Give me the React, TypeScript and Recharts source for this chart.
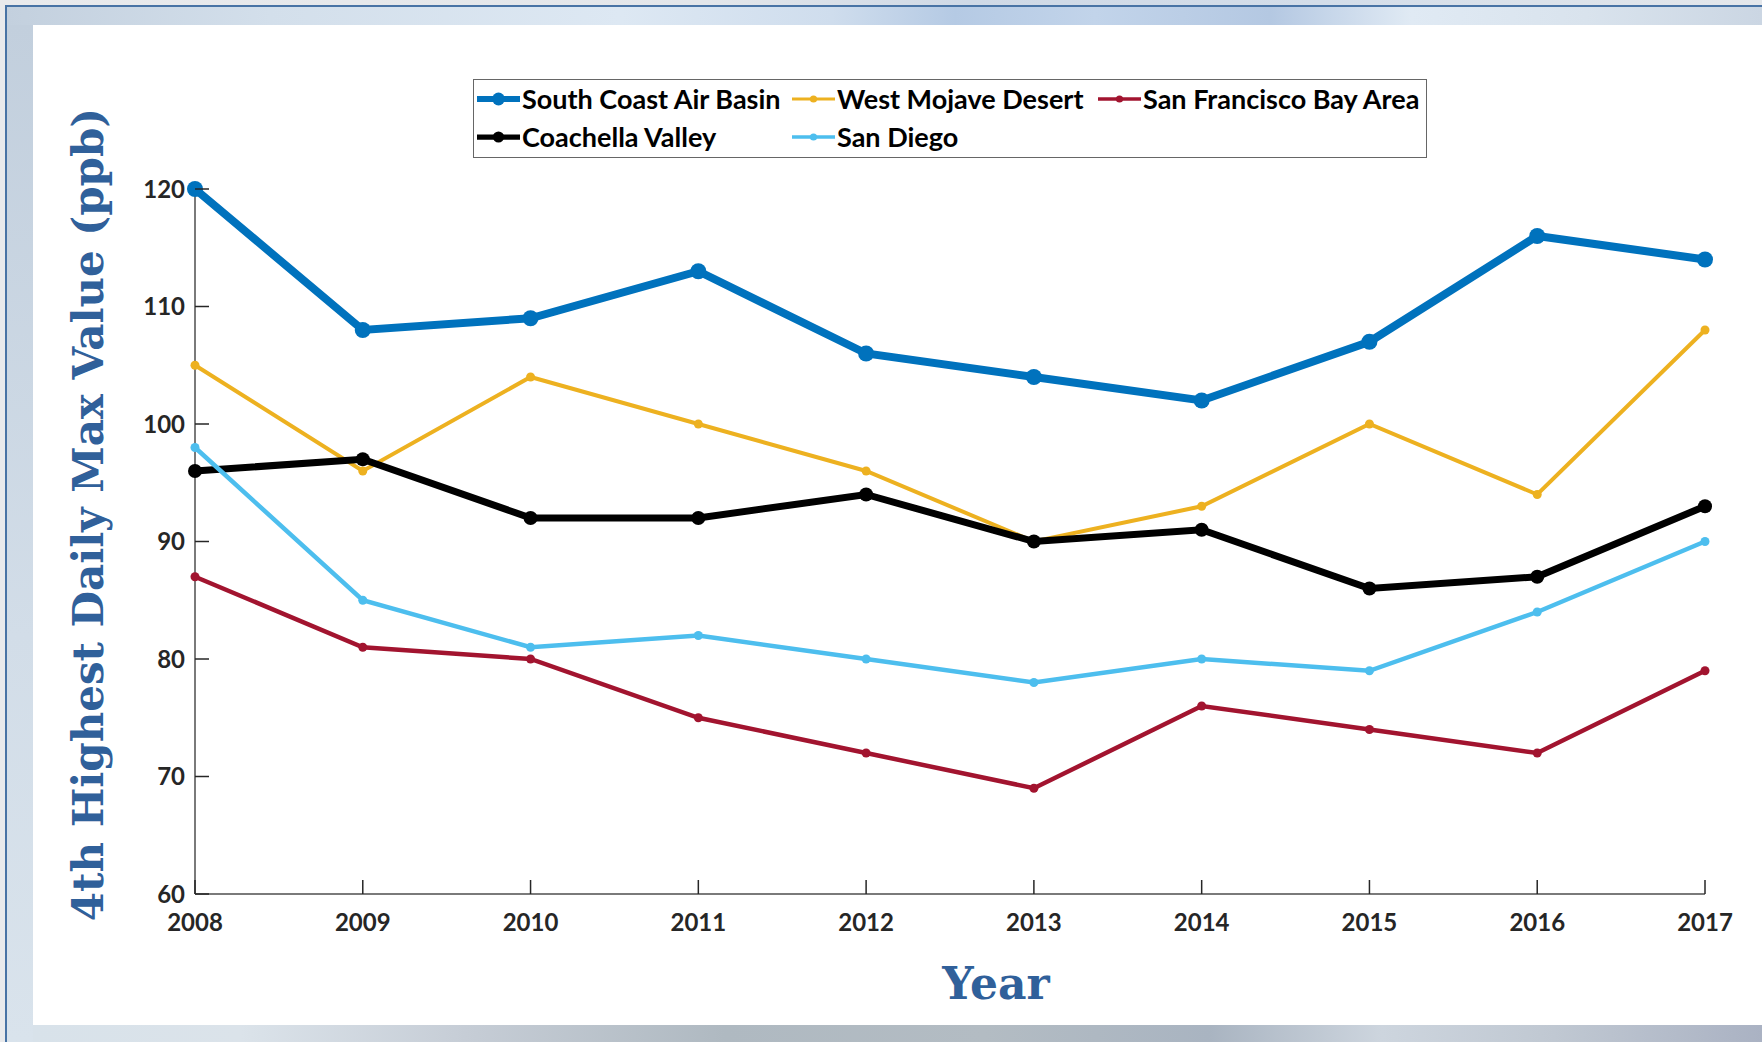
import React from "react";
import { LineChart, Line, XAxis, YAxis, Legend, Label } from "recharts";

const years = [2008, 2009, 2010, 2011, 2012, 2013, 2014, 2015, 2016, 2017];
const southCoast = [120, 108, 109, 113, 106, 104, 102, 107, 116, 114];
const westMojave = [105, 96, 104, 100, 96, 90, 93, 100, 94, 108];
const sanFrancisco = [87, 81, 80, 75, 72, 69, 76, 74, 72, 79];
const coachella = [96, 97, 92, 92, 94, 90, 91, 86, 87, 93];
const sanDiego = [98, 85, 81, 82, 80, 78, 80, 79, 84, 90];
const yTicks = [60, 70, 80, 90, 100, 110, 120];

const series = [
  { key: "southCoast", name: "South Coast Air Basin", values: southCoast, color: "#0072BD", width: 8, r: 8 },
  { key: "westMojave", name: "West Mojave Desert", values: westMojave, color: "#EDB120", width: 4, r: 4.5 },
  { key: "sanFrancisco", name: "San Francisco Bay Area", values: sanFrancisco, color: "#A2142F", width: 4.5, r: 4.5 },
  { key: "coachella", name: "Coachella Valley", values: coachella, color: "#000000", width: 7, r: 7 },
  { key: "sanDiego", name: "San Diego", values: sanDiego, color: "#4DBEEE", width: 4.5, r: 4.5 },
];

const data = years.map((year, i) => {
  const row: any = { year };
  series.forEach((s) => (row[s.key] = s.values[i]));
  return row;
});

const TICK_COLOR = "#262626";
const AXIS_COLOR = "#7a7a7a";
const TITLE_COLOR = "#30609a";
const TICK_FONT = { fontFamily: "Lato", fontWeight: 700, fontSize: 24, fill: TICK_COLOR };

const BottomTick = ({ x, y, payload }: any) => (
  <g>
    <line x1={x} y1={y} x2={x} y2={y - 14} stroke={TICK_COLOR} strokeWidth={1.5} />
    <text x={x} y={y + 37} textAnchor="middle" {...TICK_FONT}>
      {payload.value}
    </text>
  </g>
);

const LeftTick = ({ x, y, payload }: any) => (
  <g>
    <line x1={x} y1={y} x2={x + 14} y2={y} stroke={TICK_COLOR} strokeWidth={1.5} />
    <text x={x - 10} y={y + 8.5} textAnchor="end" {...TICK_FONT}>
      {payload.value}
    </text>
  </g>
);

const TopTick = ({ x, y }: any) => (
  <line x1={x} y1={y} x2={x} y2={y + 14} stroke={TICK_COLOR} strokeWidth={1.5} />
);

const RightTick = ({ x, y }: any) => (
  <line x1={x} y1={y} x2={x - 14} y2={y} stroke={TICK_COLOR} strokeWidth={1.5} />
);

// legend is a 3-column grid, filled row by row like the original
const legendCols = [3, 318, 624];
const legendRows = [19, 57];

const LegendBox = () => (
  <div
    style={{
      position: "relative",
      width: 952,
      height: 77,
      border: "1.5px solid #666",
      background: "#fff",
      boxSizing: "content-box",
    }}
  >
    {series.map((s, i) => (
      <div
        key={s.key}
        style={{
          position: "absolute",
          left: legendCols[i % 3],
          top: legendRows[Math.floor(i / 3)] - 15,
          height: 30,
          display: "flex",
          alignItems: "center",
          whiteSpace: "nowrap",
        }}
      >
        <svg width={44} height={20} style={{ marginRight: 1 }}>
          <line x1={0} y1={10} x2={43} y2={10} stroke={s.color} strokeWidth={Math.max(3, s.width * 0.75)} />
          <circle cx={21.5} cy={10} r={Math.max(3.5, s.r * 0.8)} fill={s.color} />
        </svg>
        <span
          style={{
            fontFamily: "Lato",
            fontWeight: 700,
            fontSize: 27,
            color: "#000",
            lineHeight: "30px",
          }}
        >
          {s.name}
        </span>
      </div>
    ))}
  </div>
);

const YTitle = ({ viewBox }: any) => {
  const cx = 103;
  const cy = viewBox.y + viewBox.height / 2 - 27;
  return (
    <text
      x={cx}
      y={cy}
      transform={`rotate(-90, ${cx}, ${cy})`}
      textAnchor="middle"
      fontFamily="DejaVu Serif"
      fontWeight={700}
      fontSize={42}
      fill={TITLE_COLOR}
    >
      4th Highest Daily Max Value (ppb)
    </text>
  );
};

const XTitle = ({ viewBox }: any) => (
  <text
    x={996}
    y={viewBox.y + 105}
    textAnchor="middle"
    fontFamily="DejaVu Serif"
    fontWeight={700}
    fontSize={44}
    fill={TITLE_COLOR}
  >
    Year
  </text>
);

export default function App() {
  return (
    <div
      style={{
        position: "absolute",
        left: 0,
        top: 0,
        width: 1762,
        height: 1042,
        overflow: "hidden",
        background:
          "linear-gradient(to right, #e9eaec 0%, #e3e6ea 40%, #cfd9e6 55%, #d3dde9 75%, #e4e7eb 100%)",
      }}
    >
      {/* frame lines */}
      <div
        style={{
          position: "absolute",
          left: 5,
          top: 5,
          right: 0,
          bottom: 0,
          borderLeft: "2px solid #4873a5",
          borderTop: "2px solid #4873a5",
        }}
      />
      {/* top strip */}
      <div
        style={{
          position: "absolute",
          left: 7,
          top: 7,
          right: 0,
          height: 18,
          background:
            "linear-gradient(to right, #c3d0de 0%, #d3dfeb 15%, #dde8f3 35%, #cfdded 47%, #b5cae4 54%, #c2d4ea 62%, #b4c8e2 72%, #e0eaf4 80%, #d9e3ed 90%, #cbd6e3 100%)",
        }}
      />
      {/* left strip */}
      <div
        style={{
          position: "absolute",
          left: 7,
          top: 25,
          width: 26,
          bottom: 0,
          background: "linear-gradient(to bottom, #c2cfdd 0%, #d2dde8 60%, #d9e3ec 100%)",
        }}
      />
      {/* bottom strip */}
      <div
        style={{
          position: "absolute",
          left: 33,
          top: 1025,
          right: 0,
          bottom: 0,
          background:
            "linear-gradient(to right, #d8e2ea 0%, #dbe3ea 12%, #c6cdd6 25%, #afb9c1 40%, #b3bcc3 55%, #a9b4c1 68%, #cdd5de 78%, #c0c8d2 88%, #aab2c3 100%)",
        }}
      />
      {/* white panel */}
      <div
        style={{
          position: "absolute",
          left: 33,
          top: 25,
          right: 0,
          height: 1000,
          background: "#fff",
        }}
      />

      <div style={{ position: "absolute", left: 0, top: 0 }}>
        <LineChart
          width={1762}
          height={1042}
          data={data}
          margin={{ top: 189, right: 57, bottom: 0, left: 0 }}
        >
          <XAxis
            dataKey="year"
            type="number"
            domain={[2008, 2017]}
            ticks={years}
            interval={0}
            height={148}
            tickSize={0}
            tickMargin={0}
            tick={BottomTick}
            axisLine={{ stroke: AXIS_COLOR, strokeWidth: 2 }}
          >
            <Label content={XTitle} />
          </XAxis>
          <XAxis
            xAxisId="top"
            orientation="top"
            dataKey="year"
            type="number"
            domain={[2008, 2017]}
            ticks={years}
            interval={0}
            height={0}
            tickSize={0}
            tickMargin={0}
            tick={TopTick}
            axisLine={{ stroke: AXIS_COLOR, strokeWidth: 2 }}
          />
          <YAxis
            type="number"
            domain={[60, 120]}
            ticks={yTicks}
            interval={0}
            width={195}
            tickSize={0}
            tickMargin={0}
            tick={LeftTick}
            axisLine={{ stroke: AXIS_COLOR, strokeWidth: 2 }}
          >
            <Label content={YTitle} />
          </YAxis>
          <YAxis
            yAxisId="right"
            orientation="right"
            type="number"
            domain={[60, 120]}
            ticks={yTicks}
            interval={0}
            width={0}
            tickSize={0}
            tickMargin={0}
            tick={RightTick}
            axisLine={{ stroke: AXIS_COLOR, strokeWidth: 2 }}
          />
          <Legend
            verticalAlign="middle"
            align="center"
            layout="horizontal"
            content={LegendBox}
            wrapperStyle={{ left: 473, top: 79, width: 955, height: 80 }}
          />
          {series.map((s) => (
            <Line
              key={s.key}
              dataKey={s.key}
              name={s.name}
              type="linear"
              stroke={s.color}
              strokeWidth={s.width}
              dot={{ r: s.r, fill: s.color, stroke: s.color, strokeWidth: 0 }}
              activeDot={false}
              isAnimationActive={false}
            />
          ))}
        </LineChart>
      </div>
    </div>
  );
}
